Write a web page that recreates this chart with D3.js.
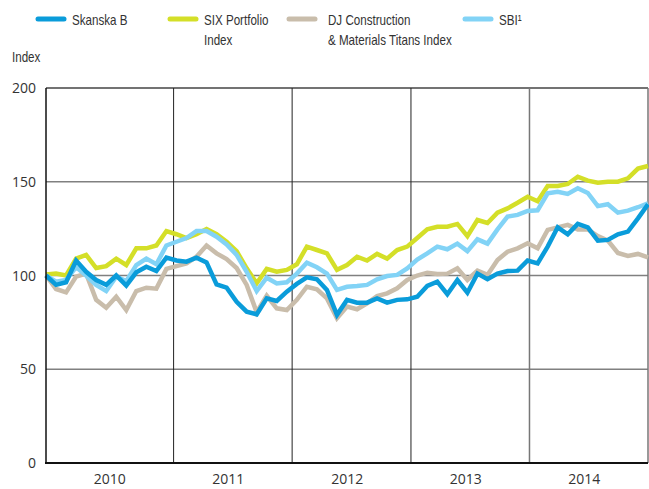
<!DOCTYPE html>
<html>
<head>
<meta charset="utf-8">
<script src="https://cdn.jsdelivr.net/npm/d3@7"></script>
<style>
  body { margin: 0; background: #fff; }
  svg text { font-family: "Liberation Sans", Arial, sans-serif; fill: #333; }
  .num { font-family: "Open Sans", "Liberation Sans", sans-serif; }
</style>
</head>
<body>
<div id="chart"></div>
<script>
// monthly index values, Dec 2009 = 100
var skanska = [100, 95, 96.4, 108, 102, 97.6, 95, 100, 94.6, 101.7, 104.7, 102.4, 109.5,
  108, 107.4, 109.5, 107, 95.3, 93.5, 86, 80.7, 79.3, 87.8, 86.4, 91.4,
  95.5, 99, 98, 92.3, 79, 87, 85.5, 85.5, 87.8, 85.5, 87, 87.3,
  88.7, 94.4, 96.7, 90, 97.6, 90.8, 101, 98, 101, 102.4, 102.6, 108,
  106.5, 115.4, 125.7, 122, 127.5, 125.7, 118.6, 119, 122, 123.4, 130.5, 138]

var six = [100.6, 101, 100, 109, 111, 104, 105, 109, 105.6, 114.5, 114.5, 116, 123.7,
  122, 120, 122, 124.8, 122, 118, 113, 103.8, 95.8, 103.5, 102, 103,
  106, 115.4, 113.6, 111.8, 103, 105.6, 110, 108, 111.5, 109, 113.6, 115.4,
  120, 124.6, 126, 126, 127.5, 121, 129.6, 128, 133.5, 135.8, 138.8, 142,
  139.6, 147.7, 147.7, 148.8, 152.7, 150.6, 149.5, 150, 150, 151.8, 157, 158.4]

var djTitans = [100, 92.8, 91, 99.4, 101, 87, 82.8, 88.7, 81.6, 91.7, 93.5, 93, 103.5,
  105, 106.5, 110, 116, 111.8, 108.8, 104, 95, 80.4, 89.2, 82.5, 81.6,
  87, 94, 92.6, 87.8, 77.2, 83.4, 82, 85.2, 89, 90.5, 93.2, 97.6,
  100, 101.5, 100.8, 101, 103.8, 97.6, 102.6, 100.3, 108.3, 112.7, 114.5, 117.2,
  114.5, 124.3, 125.7, 127, 124.6, 124.6, 121, 118.6, 112, 110.4, 111.5, 109.7]

var sbi = [100, 96.7, 97.6, 104.5, 100, 95, 91.7, 99.4, 97, 105.6, 109, 106, 116,
  118, 120, 123.7, 123.7, 120.7, 116.6, 111, 102, 91.7, 98.8, 95.8, 96.4,
  101, 106.8, 104.4, 101, 92.3, 94, 94.4, 95, 98, 99.7, 100.3, 103.8,
  108.5, 111.8, 115.4, 114, 117, 113, 119.3, 117, 124.6, 131.4, 132.3, 134.4,
  134.8, 143.8, 144.7, 143.5, 146.5, 144, 137, 138, 133.5, 134.6, 136.4, 138.5]

var years = [2010, 2011, 2012, 2013, 2014]
var yTicks = [0, 50, 100, 150, 200]

var seriesNames = ["Skanska B", "SIX Portfolio|Index", "DJ Construction|& Materials Titans Index", "SBI\u00b9"]
var seriesColors = ["#0a9cda", "#d4df28", "#c9bdab", "#82d3f6"]

var width = 649
var height = 489
var squeeze = 0.8   // the original type is a condensed face

var svg = d3.select('#chart')
  .append('svg')
  .attr('width', width)
  .attr('height', height)

// time axis, first point early Dec 2009, last point end of 2014
var start = new Date(2009, 11, 4)
var end = new Date(2015, 0, 1)
var xScale = d3.scaleTime()
  .domain([start, end])
  .range([46, 648])

var yScale = d3.scaleLinear()
  .domain([0, 200])
  .range([463, 88])

function toPoints (arr) {
  var step = (end - start) / (arr.length - 1)
  return arr.map((v, i) => ({ date: new Date(+start + i * step), value: v }))
}

// horizontal grid
svg.append('g')
  .selectAll('line')
  .data(yTicks.filter(t => t > 0))
  .enter()
  .append('line')
    .attr('x1', xScale(start))
    .attr('x2', xScale(end))
    .attr('y1', d => yScale(d))
    .attr('y2', d => yScale(d))
    .attr('stroke', d => d == 200 ? '#444' : '#808080')
    .attr('stroke-width', 1.5)

// year boundaries
svg.append('g')
  .selectAll('line')
  .data(years.slice(1).concat([2015]))
  .enter()
  .append('line')
    .attr('x1', d => xScale(new Date(d, 0, 1)))
    .attr('x2', d => xScale(new Date(d, 0, 1)))
    .attr('y1', yScale(200))
    .attr('y2', yScale(0))
    .attr('stroke', d => d >= 2014 ? '#777' : '#222')
    .attr('stroke-width', d => d >= 2014 ? 1.5 : 1)

// y axis labels
svg.append('g')
  .selectAll('text')
  .data(yTicks)
  .enter()
  .append('text')
    .attr('class', 'num')
    .attr('x', 36)
    .attr('y', d => yScale(d) + 5)
    .attr('text-anchor', 'end')
    .style('font-size', '14px')
    .text(d => d)

// year labels
svg.append('g')
  .selectAll('text')
  .data(years)
  .enter()
  .append('text')
    .attr('class', 'num')
    .attr('x', d => xScale(new Date(d, 6, 1)) - 4)
    .attr('y', 484)
    .attr('text-anchor', 'middle')
    .style('font-size', '14px')
    .text(d => d)

svg.append('text')
  .attr('transform', 'translate(12,62) scale(' + squeeze + ',1)')
  .style('font-size', '14.5px')
  .text('Index')

// lines, drawn bottom to top
var line = d3.line()
  .x(d => xScale(d.date))
  .y(d => yScale(d.value))

var drawOrder = [[djTitans, 2], [six, 1], [sbi, 3], [skanska, 0]]
drawOrder.forEach(function (s) {
  svg.append('path')
    .datum(toPoints(s[0]))
    .attr('fill', 'none')
    .attr('stroke', seriesColors[s[1]])
    .attr('stroke-width', 4.5)
    .attr('stroke-linejoin', 'miter')
    .attr('stroke-miterlimit', 3)
    .attr('d', line)
})

// axes on top
svg.append('line')
  .attr('x1', xScale(start)).attr('x2', xScale(start))
  .attr('y1', yScale(200)).attr('y2', yScale(0) + 1)
  .attr('stroke', '#111').attr('stroke-width', 1.5)
svg.append('line')
  .attr('x1', xScale(start) - 1).attr('x2', xScale(end))
  .attr('y1', yScale(0)).attr('y2', yScale(0))
  .attr('stroke', '#111').attr('stroke-width', 2)

// legend
var legendX = [36, 168, 287, 463]
var legend = svg.append('g')
  .selectAll('g')
  .data(seriesNames)
  .enter()
  .append('g')
    .attr('transform', (d, i) => 'translate(' + legendX[i] + ',19)')

legend.append('line')
  .attr('x1', 2).attr('x2', 28)
  .attr('y1', 0).attr('y2', 0)
  .attr('stroke', (d, i) => seriesColors[i])
  .attr('stroke-width', 5)
  .attr('stroke-linecap', 'round')

legend.append('text')
  .attr('transform', (d, i) => 'translate(' + (i == 2 ? 41 : 36) + ',6) scale(' + squeeze + ',1)')
  .style('font-size', '14.5px')
  .selectAll('tspan')
  .data(d => d.split('|'))
  .enter()
  .append('tspan')
    .attr('x', 0)
    .attr('dy', (d, i) => i == 0 ? 0 : 20)
    .text(d => d)
</script>
</body>
</html>
